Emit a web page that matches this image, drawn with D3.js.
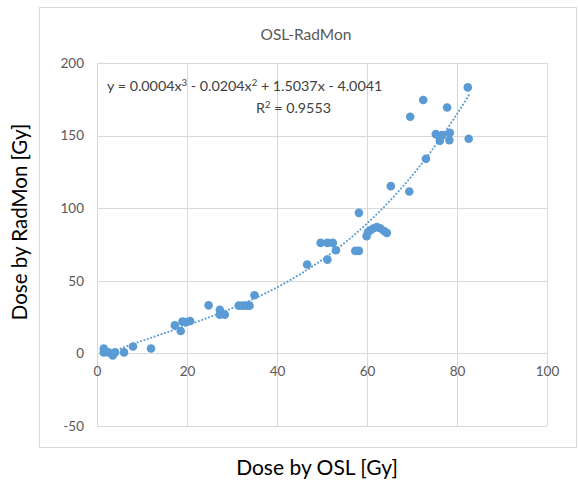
<!DOCTYPE html>
<html><head><meta charset="utf-8">
<script src="https://cdn.jsdelivr.net/npm/d3@7"></script>
<style>body{margin:0;background:#fff}svg{display:block}text{font-family:Lato,"Open Sans",sans-serif}</style>
</head><body>
<script>
const chartTitle = "OSL-RadMon";
const xTitle = "Dose by OSL [Gy]";
const yTitle = "Dose by RadMon [Gy]";
const xTicks = [0,20,40,60,80,100];
const yTicks = [-50,0,50,100,150,200];
const oslDose = [1.5,1.5,2.5,3.5,4,6,8,12,
  17.3,18.6,19,19.8,20.7,24.8,27.3,27.3,28.4,31.5,32.4,33.3,33.9,35,
  46.7,49.7,51.2,52.4,53.1,51.2,57.4,58.2,58.2,59.9,60.2,60.7,61.4,62.2,62.9,63.8,64.4,
  65.3,69.4,69.6,72.5,73.1,75.3,76.1,76.7,76.2,78.4,78.3,77.8,82.4,82.6];
const radmonDose = [3.4,0.7,0.7,-1.4,0.7,0.7,4.8,3.4,
  19.3,15.4,21.9,21.6,22.3,33.1,30.1,26.7,26.7,32.9,32.9,32.9,32.9,40,
  61.2,76.1,76.1,76.1,71,64.6,70.6,70.6,96.8,80.7,83.4,84.8,86,87.1,86.2,84.3,83,
  115.2,111.5,163,174.5,134,151,149.2,150.3,146.4,151.9,146.9,169.4,183.2,147.8];
const equationParts = [["y = 0.0004x",""],["3","sup"],[" - 0.0204x",""],["2","sup"],[" + 1.5037x - 4.0041",""]];
const r2Parts = [["R",""],["2","sup"],[" = 0.9553",""]];

const W=578,H=483;
const svg=d3.select("body").append("svg").attr("width",W).attr("height",H);
const x=d3.scaleLinear().domain([0,100]).range([97,547]);
const y=d3.scaleLinear().domain([-50,200]).range([426,63]);
const blue="#5B9BD5", grid="#D9D9D9", lab="#595959";

svg.append("rect").attr("x",39.5).attr("y",7.5).attr("width",537).attr("height",440)
  .attr("fill","#fff").attr("stroke",grid);

svg.append("text").attr("x",306).attr("y",40).attr("text-anchor","middle")
  .attr("font-size",15.5).attr("fill",lab).text(chartTitle);

// gridlines
svg.append("g").selectAll("line").data(yTicks).join("line")
  .attr("x1",x(0)).attr("x2",x(100)).attr("y1",d=>Math.round(y(d))+0.5).attr("y2",d=>Math.round(y(d))+0.5)
  .attr("stroke",grid);
svg.append("g").selectAll("line").data(xTicks).join("line")
  .attr("y1",y(-50)).attr("y2",y(200)).attr("x1",d=>Math.round(x(d))+0.5).attr("x2",d=>Math.round(x(d))+0.5)
  .attr("stroke",grid);

// axes via d3 axis (labels only)
const xa=svg.append("g").attr("transform",`translate(0,${y(0)})`)
  .call(d3.axisBottom(x).tickValues(xTicks).tickFormat(d=>String(d)).tickSize(0).tickPadding(13));
const ya=svg.append("g").attr("transform",`translate(${x(0)},0)`)
  .call(d3.axisLeft(y).tickValues(yTicks).tickFormat(d=>String(d)).tickSize(0).tickPadding(13));
[xa,ya].forEach(g=>{g.select(".domain").remove();
  g.selectAll("text").attr("font-size",13.5).attr("fill",lab).attr("font-family","Lato,'Open Sans',sans-serif");});

// cubic least-squares fit
function polyfit(xs,ys,deg){
  const n=deg+1, A=[], b=[];
  for(let i=0;i<n;i++){A.push([]);let s=0;for(let k=0;k<xs.length;k++)s+=Math.pow(xs[k],i)*ys[k];b.push(s);
    for(let j=0;j<n;j++){let t=0;for(let k=0;k<xs.length;k++)t+=Math.pow(xs[k],i+j);A[i].push(t);}}
  for(let i=0;i<n;i++){let p=i;for(let r=i+1;r<n;r++)if(Math.abs(A[r][i])>Math.abs(A[p][i]))p=r;
    [A[i],A[p]]=[A[p],A[i]];[b[i],b[p]]=[b[p],b[i]];
    for(let r=i+1;r<n;r++){const f=A[r][i]/A[i][i];for(let c=i;c<n;c++)A[r][c]-=f*A[i][c];b[r]-=f*b[i];}}
  const c=new Array(n).fill(0);
  for(let i=n-1;i>=0;i--){let s=b[i];for(let j=i+1;j<n;j++)s-=A[i][j]*c[j];c[i]=s/A[i][i];}
  return c;
}
const coef=polyfit(oslDose,radmonDose,3);
const f=v=>coef.reduce((s,c,i)=>s+c*Math.pow(v,i),0);
const x0=d3.min(oslDose), x1=d3.max(oslDose);
const curve=d3.range(0,101).map(i=>{const v=x0+(x1-x0)*i/100;return [v,f(v)];});
svg.append("path").datum(curve).attr("fill","none").attr("stroke",blue).attr("stroke-width",2)
  .attr("stroke-dasharray","0.1,3.5").attr("stroke-linecap","round")
  .attr("d",d3.line().x(d=>x(d[0])).y(d=>y(d[1])));

// points
svg.append("g").selectAll("circle").data(oslDose.map((v,i)=>[v,radmonDose[i]])).join("circle")
  .attr("cx",d=>x(d[0])).attr("cy",d=>y(d[1])).attr("r",4.3).attr("fill",blue);

// equation
function rich(parts,xp,yp,anchor){
  const t=svg.append("text").attr("x",xp).attr("y",yp).attr("font-size",14.3).attr("fill","#404040").attr("text-anchor",anchor);
  parts.forEach(([s,k])=>{const ts=t.append("tspan").text(s);
    if(k==="sup")ts.attr("font-size",9.5).attr("baseline-shift","super");});
  return t;
}
rich(equationParts,107,91,"start");
rich(r2Parts,331,113,"end");

// axis titles
svg.append("text").attr("x",317).attr("y",475).attr("text-anchor","middle").attr("font-size",21).attr("fill","#000").text(xTitle);
svg.append("text").attr("transform",`translate(27,222) rotate(-90)`).attr("text-anchor","middle").attr("font-size",20.5).attr("fill","#000").text(yTitle);
</script>
</body></html>
